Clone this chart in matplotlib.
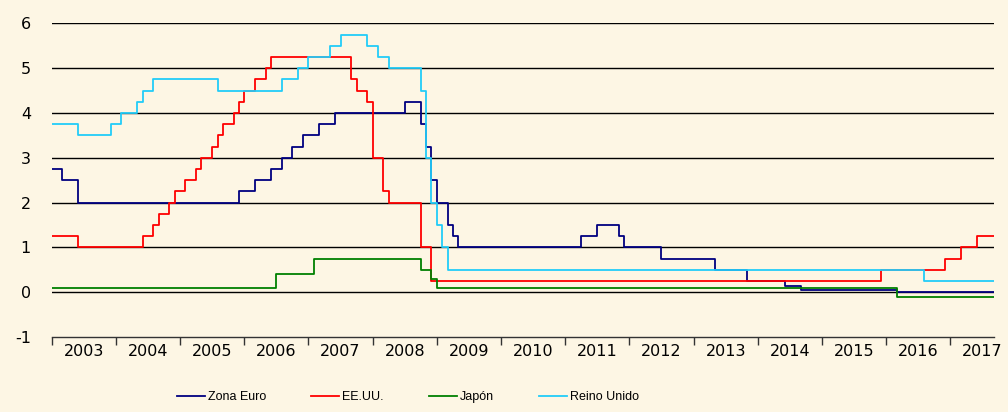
import matplotlib
matplotlib.use("Agg")
import matplotlib.pyplot as plt
import numpy as np

plt.rcParams["axes.unicode_minus"] = False

# tipos oficiales: mes en que cambia el tipo y nivel (%)
euro_fechas = ["2003-01", "2003-03", "2003-06", "2005-12", "2006-03", "2006-06", "2006-08",
               "2006-10", "2006-12", "2007-03", "2007-06", "2008-07", "2008-10", "2008-11",
               "2008-12", "2009-01", "2009-03", "2009-04", "2009-05", "2011-04", "2011-07",
               "2011-11", "2011-12", "2012-07", "2013-05", "2013-11", "2014-06", "2014-09",
               "2016-03"]
euro_tipos = [2.75, 2.5, 2.0, 2.25, 2.5, 2.75, 3.0, 3.25, 3.5, 3.75, 4.0, 4.25, 3.75, 3.25,
              2.5, 2.0, 1.5, 1.25, 1.0, 1.25, 1.5, 1.25, 1.0, 0.75, 0.5, 0.25, 0.15, 0.05, 0.0]

eeuu_fechas = ["2003-01", "2003-06", "2004-06", "2004-08", "2004-09", "2004-11", "2004-12",
               "2005-02", "2005-04", "2005-05", "2005-07", "2005-08", "2005-09", "2005-11",
               "2005-12", "2006-01", "2006-03", "2006-05", "2006-06", "2007-09", "2007-10",
               "2007-12", "2008-01", "2008-03", "2008-04", "2008-10", "2008-12", "2015-12",
               "2016-12", "2017-03", "2017-06"]
eeuu_tipos = [1.25, 1.0, 1.25, 1.5, 1.75, 2.0, 2.25, 2.5, 2.75, 3.0, 3.25, 3.5, 3.75, 4.0,
              4.25, 4.5, 4.75, 5.0, 5.25, 4.75, 4.5, 4.25, 3.0, 2.25, 2.0, 1.0, 0.25, 0.5,
              0.75, 1.0, 1.25]

japon_fechas = ["2003-01", "2006-07", "2007-02", "2008-10", "2008-12", "2009-01", "2016-03"]
japon_tipos = [0.1, 0.4, 0.75, 0.5, 0.3, 0.1, -0.1]

ru_fechas = ["2003-01", "2003-06", "2003-12", "2004-02", "2004-05", "2004-06", "2004-08",
             "2005-08", "2006-08", "2006-11", "2007-01", "2007-05", "2007-07", "2007-12",
             "2008-02", "2008-04", "2008-10", "2008-11", "2008-12", "2009-01", "2009-02",
             "2009-03", "2016-08"]
ru_tipos = [3.75, 3.5, 3.75, 4.0, 4.25, 4.5, 4.75, 4.5, 4.75, 5.0, 5.25, 5.5, 5.75, 5.5,
            5.25, 5.0, 4.5, 3.0, 2.0, 1.5, 1.0, 0.5, 0.25]

anios = list(range(2003, 2018))
x_fin = 2017.68


def a_anio(f):
    a, m = f.split("-")
    return int(a) + (int(m) - 1) / 12


def escalones(fechas, tipos):
    x = [a_anio(f) for f in fechas] + [x_fin]
    y = list(tipos) + [tipos[-1]]
    return x, y


fondo = "#fdf6e4"
fig = plt.figure(figsize=(10.08, 4.12), dpi=100, facecolor=fondo)
ax = fig.add_axes([0.0513, 0.182, 0.9348, 0.761])
ax.set_facecolor(fondo)

for v in range(0, 7):
    ax.axhline(v, color="black", lw=1.0, zorder=1)

series = [
    (euro_fechas, euro_tipos, "#000080", "Zona Euro"),
    (eeuu_fechas, eeuu_tipos, "#ff0000", "EE.UU."),
    (japon_fechas, japon_tipos, "#008000", "Japón"),
    (ru_fechas, ru_tipos, "#22ccf8", "Reino Unido"),
]
for fechas, tipos, color, nombre in series:
    x, y = escalones(fechas, tipos)
    ax.plot(x, y, drawstyle="steps-post", color=color, lw=1.3, label=nombre, zorder=3)

ax.set_xlim(2003, x_fin)
ax.set_ylim(-1, 6)
ax.set_yticks(range(-1, 7))
ax.tick_params(axis="y", length=0, pad=15, labelsize=11.5)

ax.set_xticks(anios)
ax.set_xticklabels([])
ax.set_xticks([a + 0.5 for a in anios], minor=True)
ax.set_xticklabels([str(a) for a in anios], minor=True)
ax.tick_params(axis="x", which="major", direction="out", length=6, width=1, color="#333333")
ax.tick_params(axis="x", which="minor", length=0, pad=5, labelsize=11.5)

for lado in ["top", "right", "left"]:
    ax.spines[lado].set_visible(False)
ax.spines["bottom"].set_color("#333333")
ax.spines["bottom"].set_linewidth(1.0)

fig.legend(loc="center left", bbox_to_anchor=(177 / 1008, 1 - 397 / 412), ncol=4,
           frameon=False, borderpad=0, borderaxespad=0,
           handlelength=2.24, handletextpad=0.24, columnspacing=3.6,
           prop={"family": ["Liberation Sans", "DejaVu Sans"], "size": 9})

fig.savefig("out.png", dpi=100, facecolor=fondo)
